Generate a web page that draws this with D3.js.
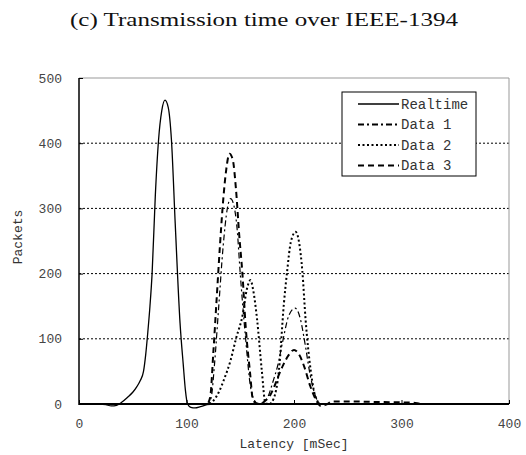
<!DOCTYPE html>
<html>
<head>
<meta charset="utf-8">
<script src="https://cdn.jsdelivr.net/npm/d3@7"></script>
<style>
  body { margin: 0; background: #fff; }
  svg { display: block; }
</style>
</head>
<body>
<div id="chart-container"></div>
<script>
// latency [mSec] / packets pairs
const realtimeX = [0, 10, 20, 25, 30, 35, 40, 45, 50, 54, 57, 60, 62, 64, 66, 68, 71, 74, 77, 80, 83, 86, 89.5, 94, 97, 99, 101, 104, 108, 113, 119, 125, 400];
const realtimeY = [0, 0, 0, -1, -3, -2, 3, 10, 18, 27, 36, 50, 75, 110, 150, 200, 320, 405, 450, 466, 455, 405, 277, 124, 60, 21, 0, -5, -6, -4, -1, 0, 0];

const data1X = [0, 120, 123, 126, 130, 134, 138, 141, 144, 147, 150, 155, 159.5, 163, 167, 172, 176, 180, 185, 190, 195, 201, 206, 210, 215, 220, 225, 230, 400];
const data1Y = [0, 0, 10, 60, 150, 240, 300, 315, 305, 270, 200, 100, 27, 6, 0, 3, 12, 32, 60, 100, 135, 147, 130, 95, 45, 12, 0, 0, 0];

const data2X = [0, 120, 125, 130, 135, 141, 146, 152.5, 156, 159.5, 162, 165.7, 170, 173.5, 177, 181, 186, 190.6, 193.7, 197, 201.5, 205, 207.7, 210.8, 215.5, 220, 225, 400];
const data2Y = [0, 0, 5, 18, 38, 67, 100, 139, 175, 190, 175, 129, 52, 1, 0, 8, 52, 154, 205, 248, 264, 245, 205, 129, 52, 11, 0, 0];

const data3X = [0, 119, 122, 125, 128, 131, 134, 137, 140, 143, 146, 149, 152, 155, 159, 162, 168, 174, 178, 182, 186, 190, 195, 200, 205, 210, 215, 220, 225, 230, 236, 250, 280, 310, 320, 400];
const data3Y = [0, 0, 10, 80, 160, 240, 310, 360, 384, 375, 330, 260, 200, 120, 50, 5, 0, 6, 14, 28, 45, 60, 75, 83, 75, 55, 28, 8, -3, -1, 4, 4, 3, 2, 0, 0];

const seriesNames = ["Realtime", "Data 1", "Data 2", "Data 3"];
const xTicks = [0, 100, 200, 300, 400];
const yTicks = [0, 100, 200, 300, 400, 500];

const width = 526;
const height = 455;
const margin = { top: 78, right: 17, bottom: 51, left: 79 };

const series = [
    { name: seriesNames[0], xs: realtimeX, ys: realtimeY, dash: null, sw: 1.3 },
    { name: seriesNames[1], xs: data1X, ys: data1Y, dash: "6,3,2,3", sw: 1.2 },
    { name: seriesNames[2], xs: data2X, ys: data2Y, dash: "2,2.5", sw: 2 },
    { name: seriesNames[3], xs: data3X, ys: data3Y, dash: "6,4", sw: 2 }
];

const x = d3.scaleLinear()
    .domain([0, 400])
    .range([margin.left, width - margin.right]);

const y = d3.scaleLinear()
    .domain([0, 500])
    .range([height - margin.bottom, margin.top]);

const svg = d3.select("#chart-container").append("svg")
    .attr("width", width)
    .attr("height", height)
    .attr("viewBox", `0 0 ${width} ${height}`);

// title
svg.append("text")
    .attr("x", 264)
    .attr("y", 26)
    .attr("text-anchor", "middle")
    .attr("font-family", "'Liberation Serif', 'DejaVu Serif', serif")
    .attr("font-size", 19)
    .attr("fill", "#111")
    .attr("textLength", 388)
    .attr("lengthAdjust", "spacingAndGlyphs")
    .text("(c) Transmission time over IEEE-1394");

// grid lines
svg.append("g")
    .selectAll("line")
    .data(yTicks.filter(d => d > 0 && d < 500))
    .join("line")
    .attr("x1", x(0))
    .attr("x2", x(400))
    .attr("y1", d => y(d))
    .attr("y2", d => y(d))
    .attr("stroke", "#000")
    .attr("stroke-width", 1)
    .attr("stroke-dasharray", "2,2");

// frame: top/right light, left/bottom black
svg.append("line")
    .attr("x1", x(0)).attr("x2", x(400))
    .attr("y1", y(500)).attr("y2", y(500))
    .attr("stroke", "#999");
svg.append("line")
    .attr("x1", x(400)).attr("x2", x(400))
    .attr("y1", y(500)).attr("y2", y(0))
    .attr("stroke", "#999");

const mono = "'Liberation Mono', 'Courier New', monospace";

svg.append("g")
    .attr("transform", `translate(0,${y(0)})`)
    .call(d3.axisBottom(x).tickValues(xTicks).tickSize(-4).tickPadding(15))
    .call(g => g.select(".domain").remove())
    .call(g => g.selectAll(".tick line").attr("stroke", "#000"))
    .call(g => g.selectAll(".tick text")
        .attr("font-family", mono).attr("font-size", 13).attr("fill", "#444"));

svg.append("g")
    .attr("transform", `translate(${x(0)},0)`)
    .call(d3.axisLeft(y).tickValues(yTicks).tickSize(-4).tickPadding(17))
    .call(g => g.select(".domain").remove())
    .call(g => g.selectAll(".tick line").attr("stroke", "#000"))
    .call(g => g.selectAll(".tick text")
        .attr("font-family", mono).attr("font-size", 13).attr("fill", "#444"));

// curves
const line = d3.line()
    .x(d => x(d[0]))
    .y(d => y(d[1]))
    .curve(d3.curveMonotoneX);

svg.append("g")
    .attr("fill", "none")
    .selectAll("path")
    .data(series)
    .join("path")
    .attr("d", s => line(s.xs.map((v, i) => [v, s.ys[i]])))
    .attr("stroke", "#000")
    .attr("stroke-width", s => s.sw)
    .attr("stroke-dasharray", s => s.dash);

// axis lines on top
svg.append("line")
    .attr("x1", x(0)).attr("x2", x(0))
    .attr("y1", y(500)).attr("y2", y(0) + 1)
    .attr("stroke", "#000").attr("stroke-width", 1.5);
svg.append("line")
    .attr("x1", x(0)).attr("x2", x(400))
    .attr("y1", y(0)).attr("y2", y(0))
    .attr("stroke", "#000").attr("stroke-width", 2);

// axis titles
svg.append("text")
    .attr("x", x(200))
    .attr("y", 448)
    .attr("text-anchor", "middle")
    .attr("font-family", mono)
    .attr("font-size", 13)
    .attr("fill", "#333")
    .text("Latency [mSec]");

svg.append("text")
    .attr("transform", `translate(22,${y(250) - 4}) rotate(-90)`)
    .attr("text-anchor", "middle")
    .attr("font-family", mono)
    .attr("font-size", 13)
    .attr("fill", "#333")
    .text("Packets");

// legend
const legend = svg.append("g").attr("transform", "translate(342,92)");
legend.append("rect")
    .attr("width", 134)
    .attr("height", 84)
    .attr("fill", "#fff")
    .attr("stroke", "#000")
    .attr("stroke-width", 1);

const items = legend.selectAll("g.item")
    .data(series)
    .join("g")
    .attr("class", "item")
    .attr("transform", (d, i) => `translate(0,${12 + i * 20.5})`);

items.append("line")
    .attr("x1", 16).attr("x2", 57)
    .attr("stroke", "#000")
    .attr("stroke-width", s => s.sw === 1.2 ? 2 : s.sw)
    .attr("stroke-dasharray", s => s.dash);

items.append("text")
    .attr("x", 59)
    .attr("dy", "0.35em")
    .attr("font-family", mono)
    .attr("font-size", 14)
    .attr("fill", "#333")
    .text(s => s.name);
</script>
</body>
</html>
